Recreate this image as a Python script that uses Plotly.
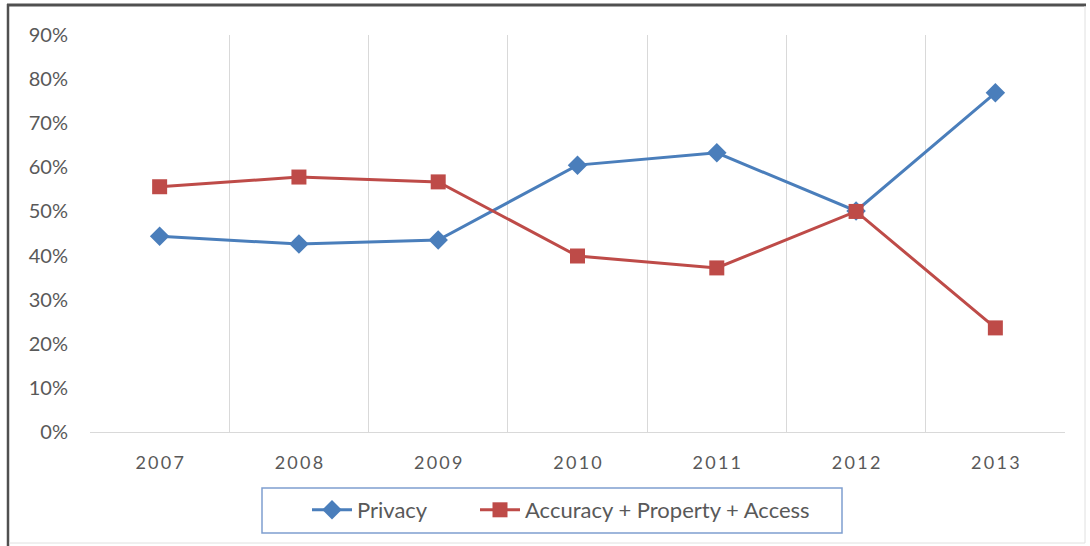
import plotly.graph_objects as go

years = ["2007", "2008", "2009", "2010", "2011", "2012", "2013"]
privacy = [0.444, 0.426, 0.435, 0.605, 0.633, 0.501, 0.769]
accuracy = [0.556, 0.578, 0.567, 0.399, 0.372, 0.500, 0.236]
y_ticks = [0, 0.1, 0.2, 0.3, 0.4, 0.5, 0.6, 0.7, 0.8, 0.9]
# spaced-out year labels as in the original
year_labels = ["\u2009".join(y) for y in years]

BLUE = "#4A7EBB"
RED = "#BE4B48"
TXT = "#595959"
FONT = "Lato, Open Sans, sans-serif"

fig = go.Figure()
fig.add_trace(go.Scatter(
    x=years, y=privacy, name="Privacy", mode="lines+markers",
    line=dict(color=BLUE, width=3),
    marker=dict(symbol="diamond", size=15, color=BLUE),
    legend="legend",
))
fig.add_trace(go.Scatter(
    x=years, y=accuracy, name="Accuracy + Property + Access", mode="lines+markers",
    line=dict(color=RED, width=3),
    marker=dict(symbol="square", size=15, color=RED),
    legend="legend2",
))

L, R, T, B = 90, 25, 35, 114
W, H = 1090, 546
pw, ph = W - L - R, H - T - B

def px2x(px):
    return (px - L) / pw

def py2y(py):
    return (H - B - py) / ph

leg_common = dict(
    orientation="h", xanchor="left", yanchor="middle", y=py2y(510),
    font=dict(size=22, color=TXT, family=FONT),
    bgcolor="rgba(0,0,0,0)", borderwidth=0, itemwidth=40,
)

fig.update_layout(
    width=W, height=H,
    margin=dict(l=L, r=R, t=T, b=B),
    paper_bgcolor="white", plot_bgcolor="white",
    font=dict(family=FONT, color=TXT),
    showlegend=True,
    legend=dict(x=px2x(307), **leg_common),
    legend2=dict(x=px2x(475), **leg_common),
    xaxis=dict(
        type="category", tickson="boundaries", range=[-0.5, 6.5],
        tickvals=years, ticktext=year_labels,
        showgrid=True, gridcolor="#D9D9D9", gridwidth=1,
        showline=True, linecolor="#D9D9D9", linewidth=1,
        ticks="", tickfont=dict(size=18, color=TXT, family=FONT),
        ticklabelstandoff=14, zeroline=False, mirror=False,
    ),
    yaxis=dict(
        range=[0, 0.9], tickvals=y_ticks, tickformat=".0%",
        showgrid=False, showline=False, zeroline=False, ticks="",
        tickfont=dict(size=20, color=TXT, family=FONT),
        ticklabelstandoff=21,
    ),
    shapes=[
        # legend box
        dict(type="rect", xref="paper", yref="paper",
             x0=px2x(262), x1=px2x(842), y0=py2y(533), y1=py2y(488),
             line=dict(color="#7F9FCF", width=1.5), fillcolor="rgba(0,0,0,0)"),
        # outer frame
        dict(type="line", xref="paper", yref="paper",
             x0=px2x(7), x1=px2x(1086), y0=py2y(5), y1=py2y(5),
             line=dict(color="#505050", width=3)),
        dict(type="line", xref="paper", yref="paper",
             x0=px2x(8), x1=px2x(8), y0=py2y(4), y1=py2y(546),
             line=dict(color="#505050", width=2.5)),
        dict(type="line", xref="paper", yref="paper",
             x0=px2x(1085), x1=px2x(1085), y0=py2y(6), y1=py2y(543),
             line=dict(color="#E0E0E0", width=1)),
        dict(type="line", xref="paper", yref="paper",
             x0=px2x(9), x1=px2x(1085), y0=py2y(543), y1=py2y(543),
             line=dict(color="#E0E0E0", width=1)),
    ],
)

fig.write_html(
    "out.html",
    config={"displayModeBar": False},
    post_script="document.body.style.margin='0';document.body.style.padding='0';",
)
